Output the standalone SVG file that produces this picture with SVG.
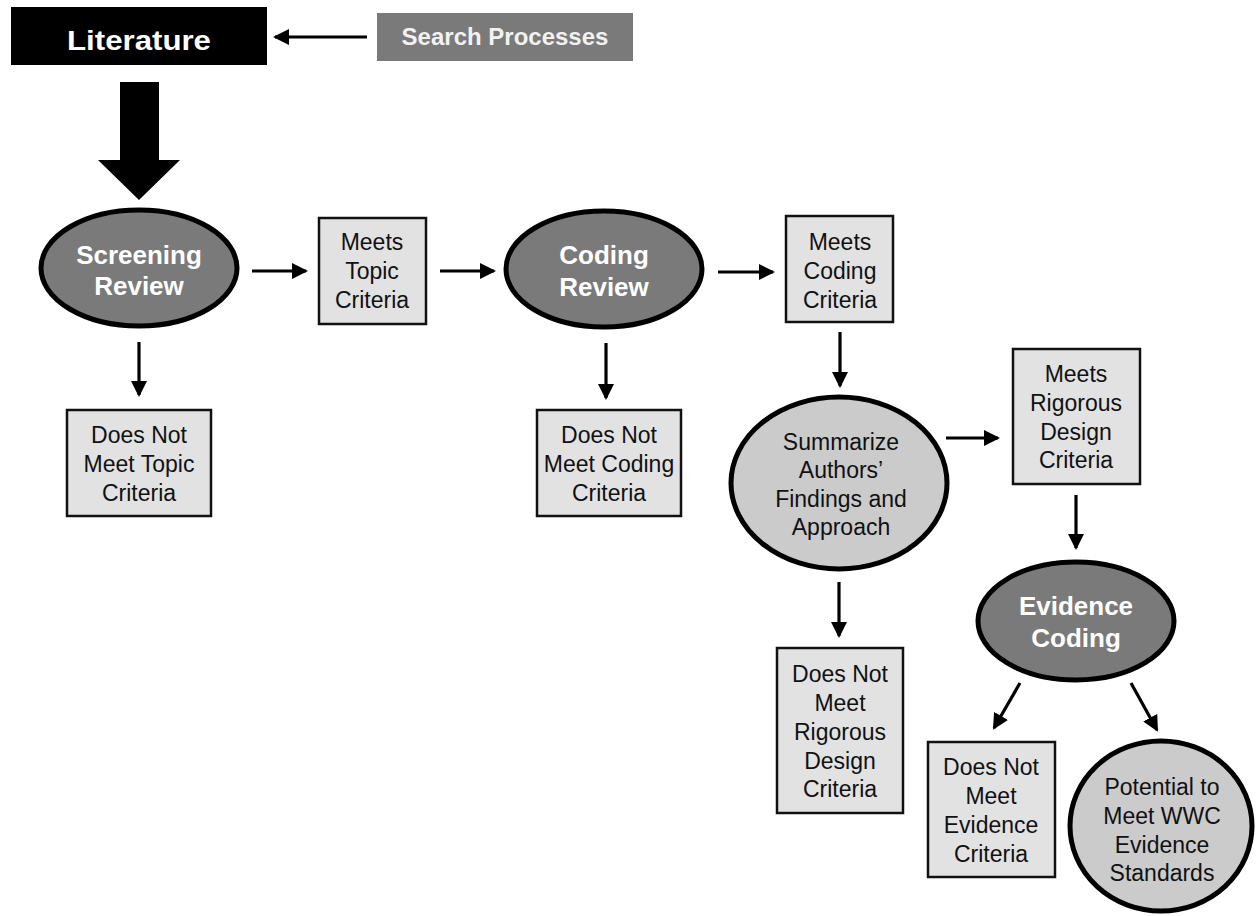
<svg xmlns="http://www.w3.org/2000/svg" width="1257" height="916" viewBox="0 0 1257 916">
<defs>
<style>
.box{fill:#e2e2e2;stroke:#111;stroke-width:2.5}
.dark{fill:#7a7a7a;stroke:#000;stroke-width:5}
.light{fill:#cbcbcb;stroke:#000;stroke-width:5}
.t{font-family:"Liberation Sans",Arial,sans-serif;font-size:23px;fill:#111;text-anchor:middle}
.tb{font-family:"Liberation Sans",Arial,sans-serif;font-size:26px;font-weight:bold;fill:#fff;text-anchor:middle}
.conn{stroke:#000;stroke-width:3.2;fill:none;marker-end:url(#ah)}
</style>
<marker id="ah" markerUnits="userSpaceOnUse" markerWidth="17" markerHeight="17" refX="14" refY="8" orient="auto">
<path d="M0,0 L16,8 L0,16 z" fill="#000"/>
</marker>
</defs>
<rect width="1257" height="916" fill="#fff"/>

<g id="connectors">
<line class="conn" x1="367" y1="37" x2="275" y2="37"/>
<polygon points="120,82 159,82 159,160 180,160 139,200 98,160 120,160" fill="#000"/>
<line class="conn" x1="252" y1="271" x2="306" y2="271"/>
<line class="conn" x1="139" y1="342" x2="139" y2="395"/>
<line class="conn" x1="440" y1="271" x2="494" y2="271"/>
<line class="conn" x1="718" y1="272" x2="773" y2="272"/>
<line class="conn" x1="606" y1="343" x2="606" y2="398"/>
<line class="conn" x1="840" y1="332" x2="840" y2="386"/>
<line class="conn" x1="946" y1="438" x2="998" y2="438"/>
<line class="conn" x1="839" y1="582" x2="839" y2="636"/>
<line class="conn" x1="1076" y1="495" x2="1076" y2="548"/>
<line class="conn" x1="1020" y1="683" x2="994" y2="728"/>
<line class="conn" x1="1131" y1="683" x2="1157" y2="730"/>
</g>

<g id="literature">
<rect x="11" y="7" width="256" height="58" fill="#000"/>
<text x="139" y="50" font-family="Liberation Sans, Arial, sans-serif" font-size="28" font-weight="bold" fill="#fff" text-anchor="middle" textLength="144" lengthAdjust="spacingAndGlyphs">Literature</text>
</g>

<g id="search-processes">
<rect x="377" y="13" width="256" height="48" fill="#7a7a7a"/>
<text x="505" y="45" font-family="Liberation Sans, Arial, sans-serif" font-size="24" font-weight="bold" fill="#f2f2f2" text-anchor="middle">Search Processes</text>
</g>

<g id="screening-review">
<ellipse class="dark" cx="139" cy="268" rx="98" ry="58"/>
<text class="tb" x="139" y="264">Screening</text>
<text class="tb" x="139" y="295">Review</text>
</g>

<g id="meets-topic">
<rect class="box" x="319" y="218" width="107" height="106"/>
<text class="t" x="372" y="250">Meets</text>
<text class="t" x="372" y="279">Topic</text>
<text class="t" x="372" y="308">Criteria</text>
</g>

<g id="not-topic">
<rect class="box" x="67" y="410" width="144" height="106"/>
<text class="t" x="139" y="443">Does Not</text>
<text class="t" x="139" y="472">Meet Topic</text>
<text class="t" x="139" y="501">Criteria</text>
</g>

<g id="coding-review">
<ellipse class="dark" cx="604" cy="269" rx="98" ry="58"/>
<text class="tb" x="604" y="264">Coding</text>
<text class="tb" x="604" y="296">Review</text>
</g>

<g id="not-coding">
<rect class="box" x="537" y="410" width="144" height="106"/>
<text class="t" x="609" y="443">Does Not</text>
<text class="t" x="609" y="472">Meet Coding</text>
<text class="t" x="609" y="501">Criteria</text>
</g>

<g id="meets-coding">
<rect class="box" x="786" y="216" width="107" height="106"/>
<text class="t" x="840" y="250">Meets</text>
<text class="t" x="840" y="279">Coding</text>
<text class="t" x="840" y="308">Criteria</text>
</g>

<g id="summarize">
<ellipse class="light" cx="839" cy="483" rx="108" ry="86"/>
<text class="t" x="841" y="450">Summarize</text>
<text class="t" x="841" y="478">Authors’</text>
<text class="t" x="841" y="507">Findings and</text>
<text class="t" x="841" y="535">Approach</text>
</g>

<g id="meets-rigorous">
<rect class="box" x="1013" y="349" width="127" height="135"/>
<text class="t" x="1076" y="382">Meets</text>
<text class="t" x="1076" y="411">Rigorous</text>
<text class="t" x="1076" y="440">Design</text>
<text class="t" x="1076" y="468">Criteria</text>
</g>

<g id="not-rigorous">
<rect class="box" x="777" y="648" width="126" height="165"/>
<text class="t" x="840" y="682">Does Not</text>
<text class="t" x="840" y="711">Meet</text>
<text class="t" x="840" y="740">Rigorous</text>
<text class="t" x="840" y="769">Design</text>
<text class="t" x="840" y="797">Criteria</text>
</g>

<g id="evidence-coding">
<ellipse class="dark" cx="1076" cy="621" rx="98" ry="59"/>
<text class="tb" x="1076" y="615">Evidence</text>
<text class="tb" x="1076" y="647">Coding</text>
</g>

<g id="not-evidence">
<rect class="box" x="928" y="742" width="127" height="135"/>
<text class="t" x="991" y="775">Does Not</text>
<text class="t" x="991" y="804">Meet</text>
<text class="t" x="991" y="833">Evidence</text>
<text class="t" x="991" y="862">Criteria</text>
</g>

<g id="potential">
<ellipse class="light" cx="1161" cy="826" rx="91" ry="85"/>
<text class="t" x="1162" y="795">Potential to</text>
<text class="t" x="1162" y="824">Meet WWC</text>
<text class="t" x="1162" y="853">Evidence</text>
<text class="t" x="1162" y="881">Standards</text>
</g>
</svg>
